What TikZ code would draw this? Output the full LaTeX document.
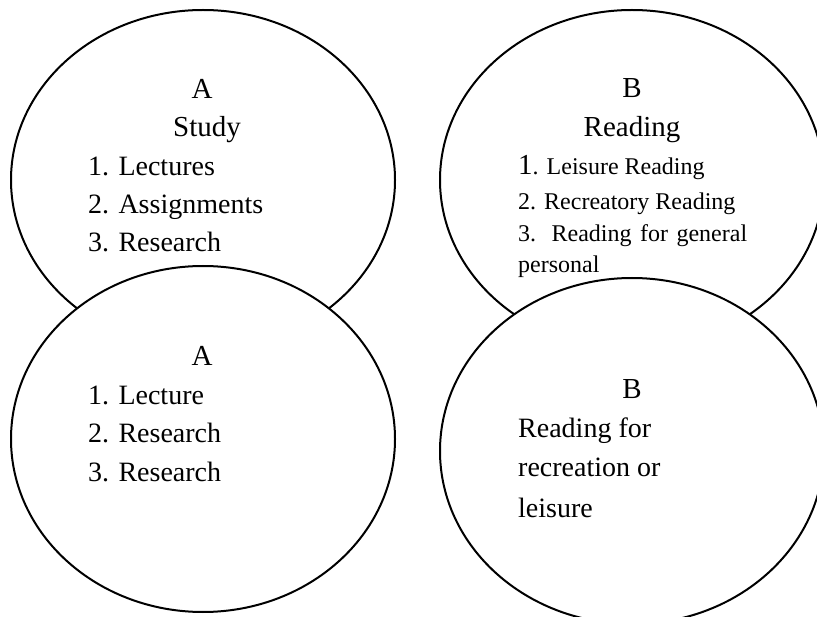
\documentclass[tikz,border=0pt]{standalone}
\usepackage{fontspec}
\setmainfont{Liberation Serif}
\usetikzlibrary{shapes.geometric}
\tikzset{
  bubble/.style={ellipse, draw, fill=white, line width=2pt, inner sep=0pt, minimum width=384pt},
  head/.style={anchor=base, inner sep=0pt, font=\fontsize{29}{35}\selectfont},
  entry/.style={anchor=base west, inner sep=0pt, font=\fontsize{28}{34}\selectfont},
  smallentry/.style={anchor=base west, inner sep=0pt, font=\fontsize{24}{29}\selectfont}
  }

\begin{document}
\begin{tikzpicture}[x=1pt, y=-1pt]
	% Frame
	\useasboundingbox (0,0) rectangle (817,617);
	\clip (0,0) rectangle (817,617);

	% Upper ellipses
	\node[bubble, minimum height=340pt] (studyA) at (203,180) {};
	\node[bubble, minimum height=340pt] (readingB) at (632,180) {};

	\node[head] (studyA-letter) at (202,99) {A};
	\node[head] (studyA-title) at (207,137) {Study};
	\node[entry] (studyA-one) at (88,176) {1. Lectures};
	\node[entry] (studyA-two) at (88,214) {2. Assignments};
	\node[entry] (studyA-three) at (88,252) {3. Research};

	\node[head] (readingB-letter) at (632,98) {B};
	\node[head] (readingB-title) at (632,137) {Reading};
	\node[smallentry] (readingB-one) at (518,175) {{\fontsize{29}{35}\selectfont 1}. Leisure Reading};
	\node[smallentry] (readingB-two) at (518,210) {2. Recreatory Reading};
	\node[smallentry] (readingB-three) at (518,242) {\makebox[229pt][s]{3. Reading for general}};
	\node[smallentry] (readingB-four) at (518,273) {personal};

	% Lower ellipses
	\node[bubble, minimum height=346pt] (lectureA) at (203,439) {};
	\node[bubble, minimum height=346pt] (leisureB) at (632,451) {};

	\node[head] (lectureA-letter) at (202,366) {A};
	\node[entry] (lectureA-one) at (88,405) {1. Lecture};
	\node[entry] (lectureA-two) at (88,443) {2. Research};
	\node[entry] (lectureA-three) at (88,482) {3. Research};

	\node[head] (leisureB-letter) at (632,399) {B};
	\node[entry] (leisureB-one) at (518,438) {Reading for};
	\node[entry] (leisureB-two) at (518,477) {recreation or};
	\node[entry] (leisureB-three) at (518,517) {leisure};
\end{tikzpicture}
\end{document}
